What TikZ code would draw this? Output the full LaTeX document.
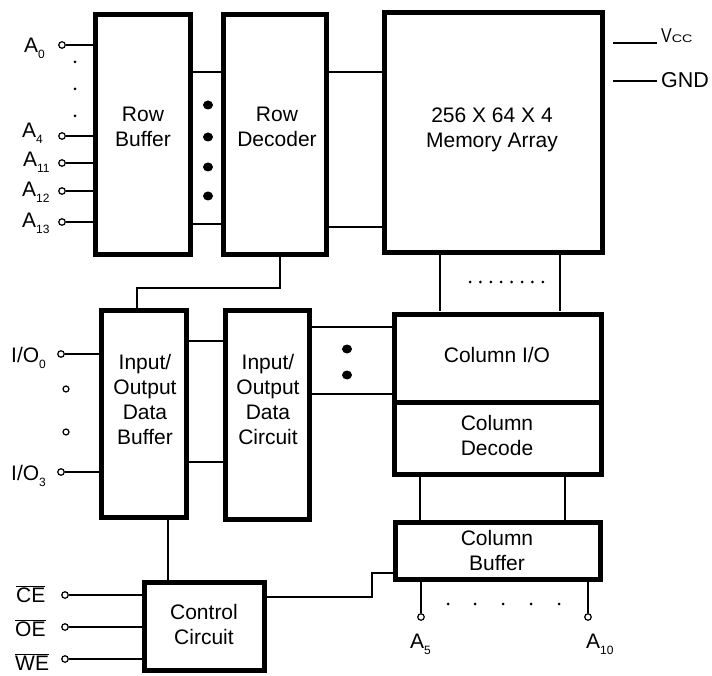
\documentclass[tikz,border=0pt]{standalone}
\usepackage{fontspec}
\setmainfont{Liberation Sans}
\usetikzlibrary{calc,shapes.geometric}
\newcommand{\pinsub}[1]{\raisebox{-6pt}{\fontsize{12}{12}\selectfont #1}}
\newcommand{\ovl}[1]{$\overline{\mbox{#1}}$}
\begin{document}
\begin{tikzpicture}[x=1pt,y=-1pt,
  box/.style={draw, line width=5pt, inner sep=0pt},
  wire/.style={line width=2pt},
  pin/.style={circle, draw, line width=1.2pt, inner sep=0pt, minimum size=6.5pt, fill=white},
  lbl/.style={font=\fontsize{21}{25}\selectfont, align=center, inner sep=0pt},
  pinlbl/.style={font=\fontsize{21}{21}\selectfont, inner sep=0pt, anchor=base west},
  bigdot/.style={fill, ellipse, inner sep=0pt, minimum width=10pt, minimum height=9pt},
  smalldot/.style={fill, circle, inner sep=0pt, minimum size=3pt},
  odot/.style={circle, draw, line width=1.2pt, inner sep=0pt, minimum size=6pt}]
\useasboundingbox (0,0) rectangle (712,676);

% boxes
\node[box, minimum width=95, minimum height=240] (rb) at (143,134.5) {};
\node[box, minimum width=103, minimum height=240] (rd) at (275,134.5) {};
\node[box, minimum width=218, minimum height=240] (mem) at (493.5,132.5) {};
\node[box, minimum width=85, minimum height=207] (iob) at (144,414) {};
\node[box, minimum width=84, minimum height=209] (ioc) at (267.5,415) {};
\node[box, minimum width=207, minimum height=88] (cio) at (498,358) {};
\node[box, minimum width=207, minimum height=72] (cdec) at (498,438) {};
\node[box, minimum width=205, minimum height=57] (cbuf) at (498,551) {};
\node[box, minimum width=120, minimum height=88] (ctl) at (204.5,626.5) {};

% box texts
\node[lbl] (rbt) at (143,127) {Row\\Buffer};
\node[lbl] (rdt) at (277,127) {Row\\Decoder};
\node[lbl] (memt) at (492,130) {256 X 64 X 4\\Memory Array};
\node[lbl] (iobt) at (145,399) {Input/\\Output\\Data\\Buffer};
\node[lbl] (ioct) at (268,399) {Input/\\Output\\Data\\Circuit};
\node[lbl] (ciot) at (497,355) {Column I/O};
\node[lbl] (cdect) at (497,435) {Column\\Decode};
\node[lbl] (cbuft) at (497,550) {Column\\Buffer};
\node[lbl] (ctlt) at (204,624) {Control\\Circuit};

% internal connectors
\draw[wire] (rb.east |- 0,72) -- (rd.west |- 0,72);
\draw[wire] (rb.east |- 0,224) -- (rd.west |- 0,224);
\draw[wire] (rd.east |- 0,72) -- (mem.west |- 0,72);
\draw[wire] (rd.east |- 0,227) -- (mem.west |- 0,227);
\draw[wire] (mem.south -| 440,0) -- (cio.north -| 440,0);
\draw[wire] (mem.south -| 560,0) -- (cio.north -| 560,0);
\draw[wire] (rd.south -| 280,0) -- (280,288) -| (iob.north -| 137,0);
\draw[wire] (iob.east |- 0,341) -- (ioc.west |- 0,341);
\draw[wire] (iob.east |- 0,462) -- (ioc.west |- 0,462);
\draw[wire] (ioc.east |- 0,327) -- (cio.west |- 0,327);
\draw[wire] (ioc.east |- 0,394) -- (cio.west |- 0,394);
\draw[wire] (cdec.south -| 420,0) -- (cbuf.north -| 420,0);
\draw[wire] (cdec.south -| 565,0) -- (cbuf.north -| 565,0);
\draw[wire] (iob.south -| 168,0) -- (ctl.north -| 168,0);
\draw[wire] (ctl.east |- 0,597) -- (372,597) |- (cbuf.west |- 0,573);

% dots
\foreach \y [count=\i] in {105,137,167,196} \node[bigdot] (rdot\i) at (208,\y) {};
\foreach \y [count=\i] in {349,375} \node[bigdot] (cdot\i) at (347,\y) {};
\foreach \y [count=\i] in {62,89,116} \node[smalldot] (adot\i) at (75,\y) {};
\foreach \i in {0,...,7} \node[smalldot] (mdot\i) at ({470+\i*10.4},282) {};
\foreach \x [count=\i] in {448,475,503,531,559} \node[smalldot] (bdot\i) at (\x,604) {};
\node[odot] (iodot1) at (66,389) {};
\node[odot] (iodot2) at (66,432) {};

% row address pins
\foreach \n/\y in {0/45,4/136,11/163,12/191,13/222} {
  \node[pin] (pa\n) at (62,\y) {};
  \draw[wire] (pa\n) -- (rb.west |- pa\n);
}
\node[pinlbl] (la0) at (24,53) {A\pinsub{0}};
\node[pinlbl] (la4) at (22,138) {A\pinsub{4}};
\node[pinlbl] (la11) at (23,167) {A\pinsub{11}};
\node[pinlbl] (la12) at (22,197) {A\pinsub{12}};
\node[pinlbl] (la13) at (22,228) {A\pinsub{13}};

% I/O pins
\node[pin] (pio0) at (61,354) {};
\node[pin] (pio3) at (61,472) {};
\draw[wire] (pio0) -- (iob.west |- pio0);
\draw[wire] (pio3) -- (iob.west |- pio3);
\node[pinlbl] (lio0) at (11,362) {I/O\pinsub{0}};
\node[pinlbl] (lio3) at (11,480) {I/O\pinsub{3}};

% control pins
\foreach \n/\y in {ce/595,oe/627,we/659} {
  \node[pin] (p\n) at (65,\y) {};
  \draw[wire] (p\n) -- (ctl.west |- p\n);
}
\node[pinlbl] (lce) at (16,602) {\ovl{CE}};
\node[pinlbl] (loe) at (15,636) {\ovl{OE}};
\node[pinlbl] (lwe) at (15,670) {\ovl{WE}};

% column address pins
\node[pin] (pa5) at (421,617) {};
\node[pin] (pa10) at (588,617) {};
\draw[wire] (cbuf.south -| pa5) -- (pa5);
\draw[wire] (cbuf.south -| pa10) -- (pa10);
\node[pinlbl] (la5) at (410,648) {A\pinsub{5}};
\node[pinlbl] (la10) at (586,648) {A\pinsub{10}};

% power
\coordinate (vccS) at (613,43);
\coordinate (vccE) at (657,43);
\coordinate (gndS) at (613,81);
\coordinate (gndE) at (657,81);
\draw[wire, line width=1.6pt] (vccS) -- (vccE);
\draw[wire, line width=1.6pt] (gndS) -- (gndE);
\node[inner sep=0pt, anchor=base west] (lvcc) at (661,43) {\fontsize{20}{20}\selectfont\scalebox{0.8}[1]{V}\scalebox{1.3}[1]{\fontsize{11}{11}\selectfont CC}};
\node[inner sep=0pt, anchor=west, font=\fontsize{21.5}{21.5}\selectfont] (lgnd) at (661,80) {GND};
\end{tikzpicture}
\end{document}
